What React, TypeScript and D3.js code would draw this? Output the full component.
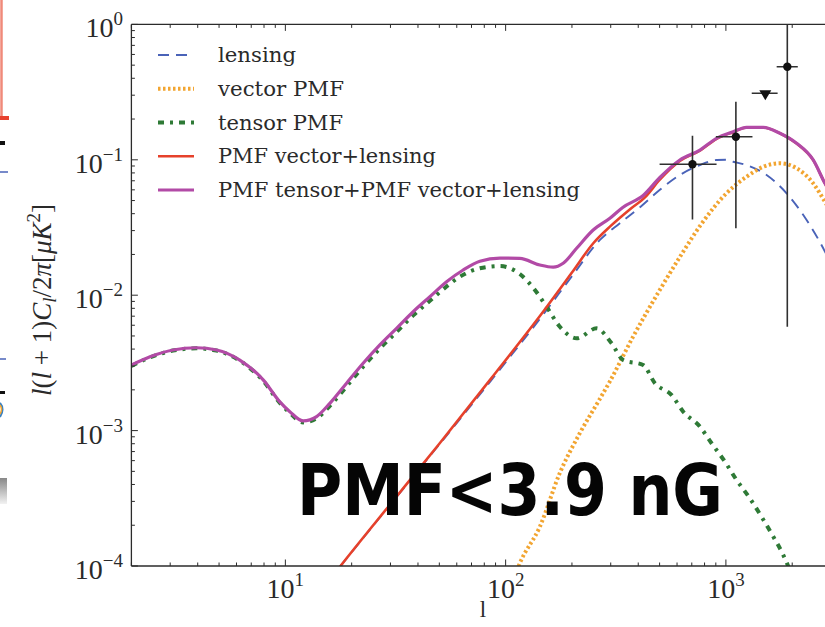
import React from 'react';
import * as d3 from 'd3';

// B-mode power spectra, D_l = l(l+1)C_l/2π in μK²
const lensingL = [17.8, 30, 50, 86, 150, 200, 268, 330, 410, 500, 618, 762, 907, 1000, 1079, 1241, 1530, 1886, 2325, 2766, 3000];
const lensingD = [1.0e-4, 2.85e-4, 7.9e-4, 2.35e-3, 7.4e-3, 0.0138, 0.0256, 0.034, 0.045, 0.0598, 0.0772, 0.0915, 0.0997, 0.1, 0.0968, 0.0915, 0.0772, 0.0566, 0.0359, 0.0222, 0.017];

const vectorL = [110, 116, 143, 176, 217, 268, 297, 379, 501, 638, 762, 1006, 1241, 1477, 1759, 2094, 2491, 2815, 3000];
const vectorD = [8.5e-5, 1.05e-4, 1.95e-4, 4.84e-4, 9.55e-4, 1.72e-3, 2.3e-3, 4.94e-3, 0.01093, 0.0208, 0.0324, 0.0566, 0.075, 0.0889, 0.0942, 0.0866, 0.067, 0.049, 0.041];

const tensorL = [2, 2.43, 3.09, 3.95, 4.87, 6.21, 7.93, 9.44, 10.48, 12.04, 13.86, 15.92, 18.96, 22.55, 26.86, 31.98, 38.04, 45.31, 53.95, 62, 76.4, 94.2, 116, 135.8, 153.4, 176.3, 210, 258.8, 302.7, 341.8, 421, 476, 567, 640, 762, 861, 990, 1118, 1285, 1452, 1640, 1820, 1953, 2100];
const tensorD = [3.0e-3, 3.47e-3, 3.9e-3, 4.05e-3, 3.9e-3, 3.28e-3, 2.33e-3, 1.6e-3, 1.35e-3, 1.15e-3, 1.23e-3, 1.52e-3, 2.12e-3, 2.97e-3, 4.05e-3, 5.35e-3, 7.1e-3, 9.1e-3, 0.0116, 0.0137, 0.0158, 0.0164, 0.01434, 0.01093, 8.22e-3, 5.85e-3, 4.8e-3, 5.69e-3, 4.41e-3, 3.32e-3, 3.05e-3, 2.24e-3, 1.83e-3, 1.38e-3, 1.07e-3, 8.06e-4, 5.89e-4, 4.32e-4, 3.16e-4, 2.31e-4, 1.65e-4, 1.21e-4, 9.3e-5, 7.0e-5];

const vecLensL = [15, 17.8, 30, 50, 86, 150, 200, 250, 300, 366, 430, 500, 618, 762, 907, 1079, 1241, 1477, 1759, 2094, 2491, 2815, 3000];
const vecLensD = [7.0e-5, 1.0e-4, 2.87e-4, 8.0e-4, 2.43e-3, 7.78e-3, 0.0147, 0.0242, 0.0325, 0.043, 0.053, 0.071, 0.098, 0.117, 0.143, 0.16, 0.173, 0.173, 0.157, 0.132, 0.0995, 0.067, 0.055];

const totalL = [2, 2.43, 3.09, 3.95, 4.87, 6.21, 7.93, 9.44, 10.48, 12.04, 13.86, 15.92, 18.96, 22.55, 26.86, 31.98, 38.04, 45.31, 53.95, 64.17, 76.4, 94.2, 116, 143, 164.4, 182.5, 210, 249.7, 297.4, 340, 421, 501.5, 618, 762, 907, 1079, 1241, 1477, 1759, 2094, 2491, 2815, 3000];
const totalD = [3.05e-3, 3.51e-3, 3.94e-3, 4.09e-3, 3.94e-3, 3.32e-3, 2.37e-3, 1.63e-3, 1.38e-3, 1.18e-3, 1.27e-3, 1.59e-3, 2.24e-3, 3.14e-3, 4.29e-3, 5.69e-3, 7.55e-3, 9.75e-3, 0.01258, 0.01535, 0.0178, 0.0188, 0.0187, 0.0167, 0.0161, 0.0172, 0.0222, 0.0303, 0.037, 0.0445, 0.0545, 0.074, 0.0997, 0.118, 0.144, 0.1612, 0.1738, 0.1738, 0.157, 0.1324, 0.0997, 0.067, 0.056];

// Measured band powers
const dataL = [705, 1110, 1900];
const dataD = [0.0926, 0.148, 0.487];
const dataLLo = [500, 900, 1700];
const dataLHi = [907, 1320, 2120];
const dataDLo = [0.0363, 0.0312, 0.00585];
const dataDHi = [0.1507, 0.2686, 1.5];
// Upper limit band
const limitL = [1510];
const limitD = [0.31];
const limitLLo = [1310];
const limitLHi = [1717];

const legendLabels = ['lensing', 'vector PMF', 'tensor PMF', 'PMF vector+lensing', 'PMF tensor+PMF vector+lensing'];
const legendWidths = [78, 126, 125, 218, 362];
const xTickExps = ['1', '2', '3'];
const yTickExps = ['−4', '−3', '−2', '−1', '0'];

const W = 825;
const H = 627;
const X0 = 131.4;
const X1 = 831;
const Y0 = 566;
const Y1 = 24.4;

const xScale = d3.scaleLog().domain([2, 3000]).range([X0, X1]);
const yScale = d3.scaleLog().domain([1e-4, 1]).range([Y0, Y1]);

const zip = (a: number[], b: number[]): [number, number][] => a.map((v, i) => [v, b[i]]);
const lineGen = d3
  .line<[number, number]>()
  .x((d) => xScale(d[0]))
  .y((d) => yScale(d[1]))
  .curve(d3.curveMonotoneX);

const COLORS = {
  lensing: '#4a63b8',
  vector: '#f2a531',
  tensor: '#2e7a36',
  vecLens: '#e6412b',
  total: '#b24aa6',
};

const series = [
  { key: 'lensing', d: lineGen(zip(lensingL, lensingD)), color: COLORS.lensing, width: 1.9, dash: '11,7' },
  { key: 'vector', d: lineGen(zip(vectorL, vectorD)), color: COLORS.vector, width: 4, dash: '2.5,2.5' },
  { key: 'tensor', d: lineGen(zip(tensorL, tensorD)), color: COLORS.tensor, width: 4, dash: '6,6,3,6' },
  { key: 'vecLens', d: lineGen(zip(vecLensL, vecLensD)), color: COLORS.vecLens, width: 2.6, dash: undefined },
  { key: 'total', d: lineGen(zip(totalL, totalD)), color: COLORS.total, width: 3.2, dash: undefined },
];

const AXIS = '#2b2b2b';
const TEXT = '#2a2a2a';
const SERIF = '"Liberation Serif", "Times New Roman", serif';

function logTicks(lo: number, hi: number) {
  const major: number[] = [];
  const minor: number[] = [];
  for (let e = Math.floor(Math.log10(lo)); e <= Math.ceil(Math.log10(hi)); e++) {
    const base = Math.pow(10, e);
    if (base >= lo * 0.999 && base <= hi * 1.001) major.push(base);
    for (let m = 2; m <= 9; m++) {
      const v = m * base;
      if (v >= lo * 0.999 && v <= hi * 1.001) minor.push(v);
    }
  }
  return { major, minor };
}

export default function App() {
  const xt = logTicks(2, 3000);
  const yt = logTicks(1e-4, 1);
  const legendY0 = 55;
  const legendStep = 33.75;

  return (
    <svg
      width={W}
      height={H}
      viewBox={`0 0 ${W} ${H}`}
      style={{ position: 'absolute', left: 0, top: 0, background: '#fff' }}
    >
      <defs>
        <clipPath id="plotArea">
          <rect x={X0} y={Y1} width={X1 - X0} height={Y0 - Y1} />
        </clipPath>
        <linearGradient id="edgeGray" x1="0" y1="0" x2="0" y2="1">
          <stop offset="0" stopColor="#888" />
          <stop offset="1" stopColor="#f2f2f2" />
        </linearGradient>
      </defs>
      <rect x={0} y={0} width={W} height={H} fill="#fff" />

      {/* fragments of the neighbouring panel along the left edge */}
      <g>
        <line x1={1.5} y1={0} x2={1.5} y2={118} stroke="#f08a7a" strokeWidth={2.5} />
        <rect x={0} y={116} width={9} height={4} fill="#e8412e" />
        <rect x={0} y={141} width={5} height={4} fill="#111" />
        <line x1={0} y1={172} x2={8} y2={172} stroke={COLORS.lensing} strokeWidth={1.5} />
        <line x1={0} y1={359} x2={6} y2={359} stroke={COLORS.lensing} strokeWidth={1.5} />
        <rect x={0} y={391} width={5} height={3} fill="#111" />
        <path d="M0,403 q5,6 0,14" fill="none" stroke="#3a80c0" strokeWidth={2} />
        <path d="M0,405 q3,4 0,9" fill="none" stroke="#f2a531" strokeWidth={1.5} />
        <rect x={0} y={478} width={7} height={26} fill="url(#edgeGray)" />
      </g>

      {/* curves */}
      <g clipPath="url(#plotArea)" fill="none">
        {series.map((s) => (
          <path
            key={s.key}
            d={s.d || ''}
            stroke={s.color}
            strokeWidth={s.width}
            strokeDasharray={s.dash}
            strokeLinejoin="round"
          />
        ))}
      </g>

      {/* band powers with error bars */}
      <g clipPath="url(#plotArea)" stroke="#303030" strokeWidth={1.6}>
        {dataL.map((l, i) => (
          <g key={'pt' + i}>
            <line x1={xScale(dataLLo[i])} x2={xScale(dataLHi[i])} y1={yScale(dataD[i])} y2={yScale(dataD[i])} />
            <line x1={xScale(l)} x2={xScale(l)} y1={yScale(dataDLo[i])} y2={yScale(dataDHi[i])} />
            <circle cx={xScale(l)} cy={yScale(dataD[i])} r={4.2} fill="#111" stroke="none" />
          </g>
        ))}
        {limitL.map((l, i) => {
          const cx = xScale(l);
          const cy = yScale(limitD[i]);
          return (
            <g key={'lim' + i}>
              <line x1={xScale(limitLLo[i])} x2={xScale(limitLHi[i])} y1={cy} y2={cy} />
              <path d={`M${cx - 6},${cy - 3} L${cx + 6},${cy - 3} L${cx},${cy + 7} Z`} fill="#111" stroke="none" />
            </g>
          );
        })}
      </g>

      {/* axes frame */}
      <g stroke={AXIS} strokeWidth={1.3} fill="none">
        <line x1={X0} y1={Y0} x2={W + 5} y2={Y0} />
        <line x1={X0} y1={Y1} x2={W + 5} y2={Y1} />
        <line x1={X0} y1={Y1} x2={X0} y2={Y0} />
      </g>

      {/* ticks, pointing inward */}
      <g stroke={AXIS} strokeWidth={1}>
        {xt.major.map((v) => (
          <g key={'xM' + v}>
            <line x1={xScale(v)} x2={xScale(v)} y1={Y0} y2={Y0 - 6.5} />
            <line x1={xScale(v)} x2={xScale(v)} y1={Y1} y2={Y1 + 6.5} />
          </g>
        ))}
        {xt.minor.map((v) => (
          <g key={'xm' + v}>
            <line x1={xScale(v)} x2={xScale(v)} y1={Y0} y2={Y0 - 3.5} />
            <line x1={xScale(v)} x2={xScale(v)} y1={Y1} y2={Y1 + 3.5} />
          </g>
        ))}
        {yt.major.map((v) => (
          <line key={'yM' + v} x1={X0} x2={X0 + 6.5} y1={yScale(v)} y2={yScale(v)} />
        ))}
        {yt.minor.map((v) => (
          <line key={'ym' + v} x1={X0} x2={X0 + 3.5} y1={yScale(v)} y2={yScale(v)} />
        ))}
      </g>

      {/* tick labels */}
      <g fill={TEXT} fontFamily={SERIF} fontSize={28}>
        {xt.major.map((v, i) => (
          <text key={'xl' + v} x={xScale(v)} y={598} textAnchor="middle">
            10
            <tspan fontSize={19} dy={-12}>
              {xTickExps[i]}
            </tspan>
          </text>
        ))}
        {yt.major.map((v, i) => (
          <text key={'yl' + v} x={123} y={yScale(v) + 13} textAnchor="end">
            10
            <tspan fontSize={19} dy={-12}>
              {yTickExps[i]}
            </tspan>
          </text>
        ))}
      </g>

      {/* axis titles */}
      <text x={483} y={617} fill={TEXT} fontFamily={SERIF} fontSize={23} textAnchor="middle">
        l
      </text>
      <text
        transform="translate(51,300) rotate(-90)"
        fill={TEXT}
        fontFamily={SERIF}
        fontSize={27}
        textAnchor="middle"
      >
        <tspan fontStyle="italic">l</tspan>(<tspan fontStyle="italic">l</tspan> + 1)
        <tspan fontStyle="italic">C</tspan>
        <tspan fontStyle="italic" fontSize={19} dy={5}>
          l
        </tspan>
        <tspan dy={-5}>/2</tspan>
        <tspan fontStyle="italic">π</tspan>[<tspan fontStyle="italic">μK</tspan>
        <tspan fontSize={19} dy={-11}>
          2
        </tspan>
        <tspan dy={11}>]</tspan>
      </text>

      {/* legend */}
      <g>
        {series.map((s, i) => {
          const ly = legendY0 + i * legendStep;
          return (
            <g key={'lg' + s.key}>
              <line
                x1={158}
                x2={194}
                y1={ly}
                y2={ly}
                stroke={s.color}
                strokeWidth={s.width}
                strokeDasharray={s.dash}
              />
              <text
                x={218}
                y={ly + 7}
                fill={TEXT}
                fontFamily='"DejaVu Serif", serif'
                fontSize={20.5}
                textLength={legendWidths[i]}
                lengthAdjust="spacingAndGlyphs"
              >
                {legendLabels[i]}
              </text>
            </g>
          );
        })}
      </g>

      {/* field-strength annotation */}
      <text
        x={297}
        y={515}
        fill="#050505"
        fontFamily='"DejaVu Sans", Verdana, sans-serif'
        fontWeight="bold"
        fontSize={71}
        textLength={426}
        lengthAdjust="spacingAndGlyphs"
      >
        PMF&lt;3.9 nG
      </text>
    </svg>
  );
}
